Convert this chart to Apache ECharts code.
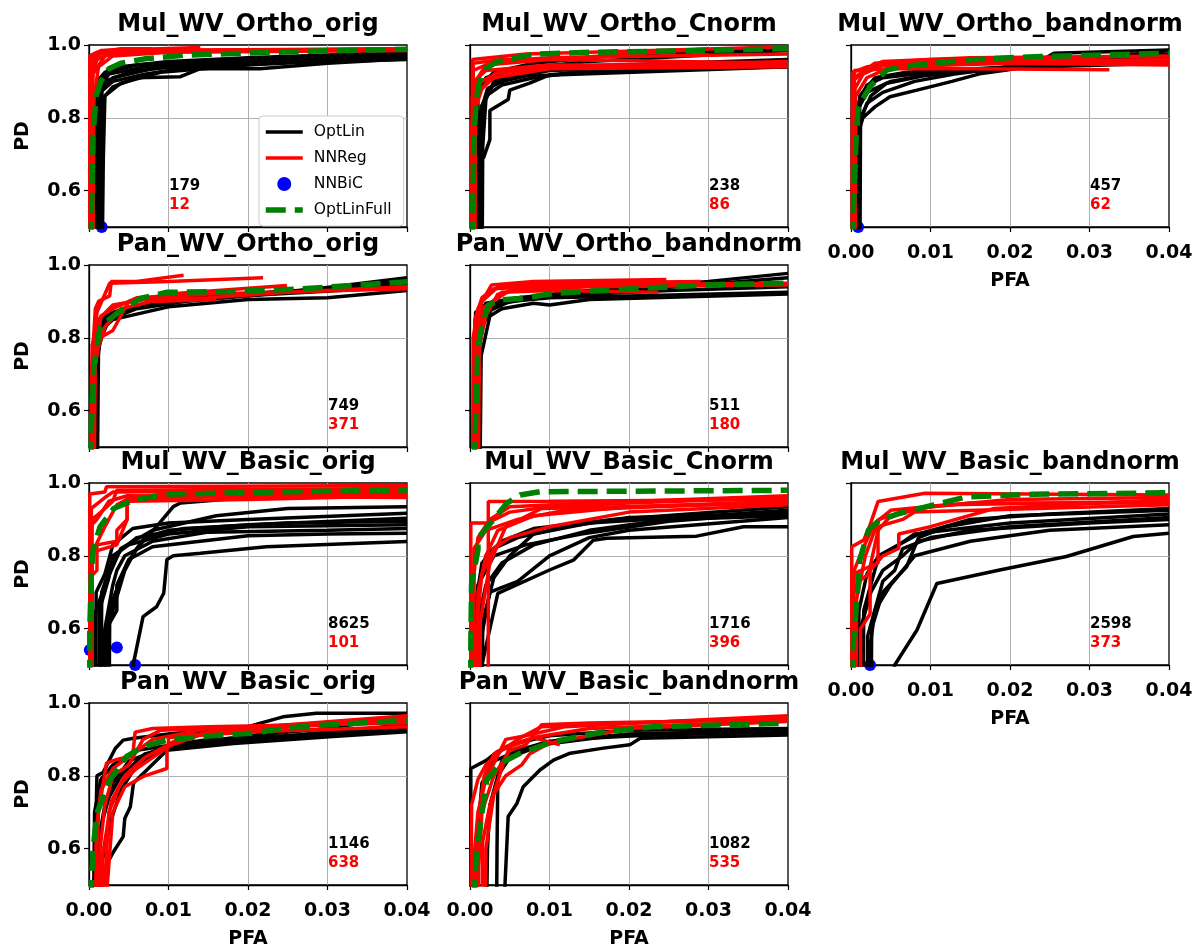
<!DOCTYPE html>
<html lang="en">
<head>
<meta charset="utf-8" />
<title>PD vs PFA</title>
<script src="https://cdn.jsdelivr.net/npm/echarts@6/dist/echarts.min.js"></script>
<style>
  html, body { margin: 0; padding: 0; background: #fff; }
  #chart { width: 1196px; height: 944px; }
</style>
</head>
<body>
<div id="chart"></div>
<script>
// axis ticks
var xTicks = [0, 0.01, 0.02, 0.03, 0.04];
var yTicks = [0.6, 0.8, 1.0];

var titles = ['Mul_WV_Ortho_orig', 'Mul_WV_Ortho_Cnorm', 'Mul_WV_Ortho_bandnorm',
  'Pan_WV_Ortho_orig', 'Pan_WV_Ortho_bandnorm',
  'Mul_WV_Basic_orig', 'Mul_WV_Basic_Cnorm', 'Mul_WV_Basic_bandnorm',
  'Pan_WV_Basic_orig', 'Pan_WV_Basic_bandnorm'];
var countOptLin = [179, 238, 457, 749, 511, 8625, 1716, 2598, 1146, 1082];
var countNNReg = [12, 86, 62, 371, 180, 101, 396, 373, 638, 535];
var countX = [0.01, 0.03, 0.03, 0.03, 0.03, 0.03, 0.03, 0.03, 0.03, 0.03];

// ---- Mul_WV_Ortho_orig
var mulOrthoOrigLin = [
  [[0.0013,0.3],[0.0013,0.6],[0.0016,0.85],[0.003,0.885],[0.006,0.91],[0.0115,0.913],[0.014,0.935],[0.0215,0.935],[0.03,0.95],[0.04,0.962]],
  [[0.0010,0.3],[0.0011,0.87],[0.002,0.9],[0.005,0.925],[0.01,0.94],[0.02,0.95],[0.04,0.965]],
  [[0.0014,0.3],[0.0016,0.88],[0.003,0.91],[0.008,0.935],[0.015,0.95],[0.03,0.96],[0.04,0.97]],
  [[0.0009,0.3],[0.001,0.9],[0.002,0.925],[0.006,0.945],[0.012,0.955],[0.025,0.965],[0.04,0.972]],
  [[0.0016,0.3],[0.0018,0.69],[0.002,0.86],[0.004,0.895],[0.009,0.925],[0.02,0.945],[0.04,0.968]],
  [[0.0011,0.3],[0.0012,0.88],[0.0025,0.92],[0.007,0.94],[0.016,0.955],[0.04,0.975]],
  [[0.0015,0.3],[0.0016,0.91],[0.004,0.94],[0.01,0.955],[0.02,0.965],[0.04,0.98]],
  [[0.0013,0.3],[0.0014,0.87],[0.003,0.9],[0.007,0.92],[0.013,0.94],[0.025,0.952],[0.04,0.96]]
];
var mulOrthoOrigReg = [
  [[0.0002,0.3],[0.0002,0.96],[0.001,0.97],[0.002,0.985],[0.014,0.993]],
  [[0.0003,0.3],[0.0004,0.95],[0.0015,0.975],[0.004,0.985],[0.04,0.99]],
  [[0.0001,0.3],[0.0002,0.9],[0.001,0.96],[0.003,0.98],[0.02,0.985],[0.04,0.99]],
  [[0.0004,0.3],[0.0005,0.92],[0.002,0.97],[0.006,0.985],[0.04,0.988]],
  [[0.0002,0.3],[0.0003,0.97],[0.0015,0.985],[0.012,0.99]],
  [[0.0005,0.3],[0.0006,0.85],[0.0012,0.94],[0.003,0.97],[0.01,0.98],[0.04,0.985]],
  [[0.0001,0.3],[0.0001,0.97],[0.001,0.98],[0.004,0.99],[0.008,0.99]]
];
var mulOrthoOrigFull = [[0.0002,0.3],[0.0003,0.5],[0.0005,0.75],[0.0009,0.86],[0.0015,0.9],[0.0025,0.935],[0.004,0.95],[0.007,0.962],[0.012,0.972],[0.02,0.978],[0.03,0.984],[0.04,0.988]];
var mulOrthoOrigBiC = [[0.0016,0.5]];

// ---- Mul_WV_Ortho_Cnorm
var mulOrthoCnormLin = [
  [[0.0008,0.3],[0.0009,0.69],[0.0017,0.69],[0.0025,0.74],[0.0025,0.82],[0.0048,0.85],[0.005,0.876],[0.0075,0.895],[0.01,0.918],[0.02,0.935],[0.04,0.945]],
  [[0.0012,0.3],[0.0014,0.75],[0.002,0.86],[0.004,0.89],[0.008,0.91],[0.015,0.93],[0.04,0.94]],
  [[0.0010,0.3],[0.0011,0.8],[0.0022,0.88],[0.005,0.91],[0.01,0.93],[0.04,0.95]],
  [[0.0006,0.3],[0.0008,0.86],[0.002,0.91],[0.006,0.935],[0.015,0.955],[0.04,0.985]],
  [[0.0015,0.3],[0.0016,0.72],[0.002,0.85],[0.003,0.9],[0.006,0.92],[0.012,0.94],[0.04,0.96]],
  [[0.0009,0.3],[0.001,0.88],[0.003,0.925],[0.008,0.95],[0.02,0.975],[0.04,0.99]],
  [[0.0013,0.3],[0.0014,0.83],[0.003,0.895],[0.007,0.915],[0.04,0.94]]
];
var mulOrthoCnormReg = [
  [[0.0002,0.3],[0.0003,0.96],[0.007,0.975],[0.04,0.995]],
  [[0.0003,0.3],[0.0004,0.95],[0.004,0.96],[0.01,0.96],[0.04,0.95]],
  [[0.0004,0.3],[0.0005,0.9],[0.002,0.93],[0.01,0.945],[0.04,0.945]],
  [[0.0002,0.3],[0.0003,0.86],[0.0015,0.9],[0.004,0.93],[0.01,0.94],[0.04,0.955]],
  [[0.0005,0.3],[0.0006,0.82],[0.0015,0.88],[0.003,0.92],[0.01,0.94],[0.04,0.95]],
  [[0.0003,0.3],[0.0004,0.93],[0.003,0.955],[0.01,0.965],[0.04,0.975]],
  [[0.0006,0.3],[0.0007,0.9],[0.002,0.945],[0.01,0.96],[0.03,0.99]],
  [[0.0002,0.3],[0.0002,0.78],[0.001,0.87],[0.003,0.91],[0.01,0.935],[0.04,0.94]]
];
var mulOrthoCnormFull = [[0.0002,0.3],[0.0003,0.5],[0.0005,0.75],[0.0008,0.85],[0.0012,0.9],[0.002,0.935],[0.0034,0.954],[0.008,0.975],[0.015,0.98],[0.03,0.985],[0.04,0.99]];
var mulOrthoCnormBiC = [];

// ---- Mul_WV_Ortho_bandnorm
var mulOrthoBandLin = [
  [[0.0007,0.3],[0.0008,0.75],[0.0015,0.8],[0.003,0.83],[0.0049,0.858],[0.0083,0.876],[0.0127,0.9],[0.0164,0.922],[0.0196,0.931],[0.023,0.945],[0.0255,0.977],[0.04,0.986]],
  [[0.0009,0.3],[0.001,0.78],[0.002,0.84],[0.004,0.87],[0.008,0.9],[0.013,0.92],[0.02,0.94],[0.04,0.975]],
  [[0.0006,0.3],[0.0008,0.82],[0.002,0.87],[0.005,0.9],[0.01,0.92],[0.02,0.935],[0.04,0.96]],
  [[0.0011,0.3],[0.0012,0.8],[0.0025,0.86],[0.0045,0.895],[0.009,0.915],[0.015,0.93],[0.025,0.95],[0.04,0.97]],
  [[0.0008,0.3],[0.0009,0.84],[0.002,0.89],[0.004,0.91],[0.01,0.925],[0.02,0.94],[0.03,0.96],[0.04,0.985]],
  [[0.001,0.3],[0.0011,0.86],[0.003,0.91],[0.007,0.925],[0.015,0.935],[0.04,0.95]]
];
var mulOrthoBandReg = [
  [[0.0002,0.3],[0.0002,0.925],[0.002,0.94],[0.008,0.95],[0.02,0.955],[0.04,0.96]],
  [[0.0003,0.3],[0.0004,0.93],[0.005,0.935],[0.015,0.935],[0.0325,0.932]],
  [[0.0001,0.3],[0.0002,0.9],[0.002,0.935],[0.004,0.955],[0.015,0.965],[0.04,0.97]],
  [[0.0004,0.3],[0.0005,0.88],[0.0015,0.92],[0.004,0.945],[0.012,0.955],[0.04,0.955]],
  [[0.0003,0.3],[0.0004,0.91],[0.003,0.95],[0.01,0.96],[0.025,0.965],[0.04,0.95]],
  [[0.0005,0.3],[0.0006,0.86],[0.002,0.91],[0.005,0.94],[0.02,0.95],[0.04,0.945]]
];
var mulOrthoBandFull = [[0.0002,0.3],[0.0003,0.55],[0.0006,0.72],[0.0009,0.83],[0.0024,0.886],[0.0045,0.931],[0.0062,0.94],[0.0145,0.959],[0.023,0.968],[0.04,0.977]];
var mulOrthoBandBiC = [[0.0009,0.5]];

// ---- Pan_WV_Ortho_orig
var panOrthoOrigLin = [
  [[0.0007,0.3],[0.0009,0.7],[0.0015,0.82],[0.003,0.85],[0.006,0.865],[0.01,0.885],[0.02,0.905],[0.03,0.91],[0.04,0.93]],
  [[0.0008,0.3],[0.001,0.75],[0.002,0.84],[0.004,0.87],[0.008,0.895],[0.015,0.91],[0.04,0.94]],
  [[0.0006,0.3],[0.0008,0.8],[0.002,0.86],[0.005,0.885],[0.01,0.905],[0.02,0.92],[0.03,0.935],[0.04,0.955]],
  [[0.001,0.3],[0.0012,0.78],[0.0025,0.85],[0.006,0.88],[0.012,0.9],[0.025,0.925],[0.04,0.965]],
  [[0.0009,0.3],[0.001,0.82],[0.003,0.87],[0.007,0.895],[0.015,0.915],[0.03,0.935],[0.04,0.95]]
];
var panOrthoOrigReg = [
  [[0.0002,0.3],[0.0003,0.7],[0.0008,0.88],[0.0012,0.9],[0.0026,0.915],[0.0028,0.955],[0.006,0.955],[0.0119,0.972]],
  [[0.0003,0.3],[0.0005,0.75],[0.001,0.87],[0.0026,0.95],[0.01,0.955],[0.0219,0.965]],
  [[0.0004,0.3],[0.0006,0.7],[0.0014,0.8],[0.003,0.82],[0.0035,0.84],[0.005,0.9],[0.01,0.92],[0.0249,0.944]],
  [[0.0005,0.3],[0.0007,0.72],[0.0015,0.86],[0.003,0.88],[0.006,0.91],[0.015,0.92],[0.04,0.935]],
  [[0.0002,0.3],[0.0004,0.78],[0.0012,0.85],[0.003,0.89],[0.007,0.905],[0.015,0.91],[0.025,0.925],[0.04,0.94]],
  [[0.0006,0.3],[0.0008,0.75],[0.002,0.83],[0.004,0.88],[0.008,0.9],[0.016,0.905]]
];
var panOrthoOrigFull = [[0.0002,0.3],[0.0003,0.55],[0.0006,0.72],[0.0014,0.83],[0.0035,0.867],[0.0064,0.908],[0.0098,0.925],[0.018,0.927],[0.0265,0.934],[0.04,0.954]];
var panOrthoOrigBiC = [];

// ---- Pan_WV_Ortho_bandnorm
var panOrthoBandLin = [
  [[0.0012,0.3],[0.0014,0.75],[0.0025,0.86],[0.004,0.88],[0.008,0.895],[0.01,0.89],[0.015,0.905],[0.04,0.92]],
  [[0.0009,0.3],[0.001,0.8],[0.002,0.87],[0.005,0.9],[0.01,0.91],[0.02,0.915],[0.04,0.925]],
  [[0.0007,0.3],[0.0008,0.85],[0.002,0.895],[0.006,0.91],[0.015,0.93],[0.03,0.955],[0.04,0.977]],
  [[0.0011,0.3],[0.0012,0.82],[0.003,0.89],[0.008,0.91],[0.02,0.93],[0.04,0.965]],
  [[0.0006,0.3],[0.0007,0.87],[0.003,0.9],[0.01,0.915],[0.025,0.93],[0.04,0.94]]
];
var panOrthoBandReg = [
  [[0.0003,0.3],[0.0004,0.8],[0.001,0.88],[0.0027,0.945],[0.008,0.955],[0.0247,0.96]],
  [[0.0005,0.3],[0.0007,0.82],[0.0015,0.9],[0.0035,0.94],[0.01,0.95],[0.029,0.955]],
  [[0.0008,0.3],[0.001,0.75],[0.002,0.88],[0.004,0.925],[0.01,0.93],[0.0237,0.925]],
  [[0.0004,0.3],[0.0006,0.85],[0.0015,0.91],[0.003,0.935],[0.012,0.945],[0.04,0.95]],
  [[0.001,0.3],[0.0012,0.78],[0.002,0.86],[0.0035,0.92],[0.008,0.94],[0.02,0.95]],
  [[0.0006,0.3],[0.0008,0.8],[0.0018,0.885],[0.005,0.93],[0.015,0.94],[0.04,0.945]]
];
var panOrthoBandFull = [[0.0005,0.3],[0.0006,0.5],[0.001,0.776],[0.0015,0.83],[0.0023,0.89],[0.0038,0.904],[0.0063,0.908],[0.0105,0.922],[0.0189,0.933],[0.0294,0.945],[0.04,0.95]];
var panOrthoBandBiC = [];

// ---- Mul_WV_Basic_orig
var mulBasicOrigLin = [
  [[0.0045,0.3],[0.0056,0.505],[0.0068,0.633],[0.0085,0.66],[0.0094,0.697],[0.0098,0.79],[0.0106,0.8],[0.014,0.807],[0.0223,0.825],[0.04,0.839]],
  [[0.0018,0.3],[0.002,0.6],[0.003,0.72],[0.0035,0.76],[0.0045,0.8],[0.008,0.84],[0.015,0.865],[0.03,0.87],[0.04,0.875]],
  [[0.0012,0.3],[0.0013,0.65],[0.0025,0.74],[0.003,0.8],[0.005,0.83],[0.01,0.86],[0.02,0.88],[0.04,0.885]],
  [[0.0015,0.3],[0.0016,0.7],[0.0028,0.78],[0.004,0.815],[0.006,0.85],[0.012,0.875],[0.025,0.89],[0.04,0.895]],
  [[0.0021,0.3],[0.0022,0.6],[0.0035,0.65],[0.0035,0.72],[0.0048,0.78],[0.007,0.85],[0.01,0.87],[0.02,0.885],[0.04,0.903]],
  [[0.0008,0.3],[0.0009,0.7],[0.002,0.75],[0.003,0.83],[0.0055,0.875],[0.01,0.89],[0.02,0.9],[0.04,0.917]],
  [[0.0025,0.3],[0.0026,0.62],[0.0045,0.76],[0.006,0.82],[0.0085,0.88],[0.0106,0.935],[0.0115,0.945],[0.02,0.96],[0.025,0.97],[0.04,0.975]],
  [[0.0005,0.3],[0.0006,0.63],[0.002,0.72],[0.004,0.82],[0.008,0.87],[0.016,0.91],[0.025,0.93],[0.04,0.935]],
  [[0.0014,0.3],[0.0015,0.55],[0.003,0.68],[0.005,0.79],[0.008,0.825],[0.02,0.855],[0.03,0.86],[0.04,0.862]]
];
var mulBasicOrigReg = [
  [[0.0001,0.3],[0.0001,0.74],[0.001,0.76],[0.001,0.83],[0.0035,0.84],[0.0035,0.87],[0.0048,0.9],[0.0048,0.96],[0.01,0.97],[0.04,0.975]],
  [[0.0002,0.3],[0.0002,0.8],[0.002,0.88],[0.0035,0.94],[0.0048,0.955],[0.02,0.965],[0.04,0.97]],
  [[0.0001,0.3],[0.0001,0.97],[0.002,0.975],[0.0022,0.99],[0.04,0.993]],
  [[0.0003,0.3],[0.0004,0.9],[0.0015,0.92],[0.003,0.95],[0.0035,0.98],[0.04,0.985]],
  [[0.0002,0.3],[0.0003,0.93],[0.002,0.96],[0.003,0.975],[0.04,0.98]],
  [[0.0001,0.3],[0.0001,0.88],[0.001,0.9],[0.0025,0.95],[0.0048,0.965],[0.04,0.96]],
  [[0.0004,0.3],[0.0004,0.81],[0.0035,0.83],[0.0048,0.9],[0.0048,0.95],[0.02,0.955],[0.04,0.965]]
];
var mulBasicOrigFull = [[0.0001,0.3],[0.0001,0.6],[0.0003,0.75],[0.0005,0.816],[0.0014,0.88],[0.0031,0.93],[0.0056,0.953],[0.0098,0.969],[0.02,0.974],[0.04,0.981]];
var mulBasicOrigBiC = [[0.0001,0.541],[0.0035,0.548],[0.0058,0.5]];

// ---- Mul_WV_Basic_Cnorm
var mulBasicCnormLin = [
  [[0.0013,0.3],[0.0015,0.5],[0.0025,0.6],[0.0035,0.697],[0.01,0.761],[0.013,0.788],[0.0155,0.843],[0.0172,0.848],[0.0285,0.854],[0.0344,0.88],[0.04,0.88]],
  [[0.001,0.3],[0.0012,0.55],[0.0025,0.7],[0.006,0.73],[0.01,0.8],[0.015,0.85],[0.02,0.87],[0.04,0.905]],
  [[0.0006,0.3],[0.0008,0.6],[0.002,0.72],[0.004,0.78],[0.008,0.83],[0.015,0.87],[0.025,0.9],[0.04,0.91]],
  [[0.0004,0.3],[0.0006,0.65],[0.0015,0.78],[0.003,0.82],[0.006,0.85],[0.012,0.88],[0.02,0.905],[0.04,0.915]],
  [[0.0015,0.3],[0.0016,0.62],[0.003,0.74],[0.005,0.8],[0.008,0.86],[0.015,0.89],[0.03,0.91],[0.04,0.925]],
  [[0.0008,0.3],[0.001,0.7],[0.002,0.8],[0.004,0.84],[0.008,0.875],[0.018,0.9],[0.04,0.935]],
  [[0.0002,0.3],[0.0003,0.55],[0.001,0.72],[0.003,0.8],[0.007,0.83],[0.014,0.86],[0.025,0.895],[0.04,0.92]]
];
var mulBasicCnormReg = [
  [[0.0023,0.3],[0.0023,0.949],[0.01,0.95],[0.04,0.955]],
  [[0.0001,0.3],[0.0001,0.89],[0.0022,0.89],[0.005,0.92],[0.01,0.935],[0.02,0.945],[0.04,0.96]],
  [[0.0006,0.3],[0.0008,0.6],[0.0015,0.75],[0.003,0.82],[0.005,0.85],[0.01,0.88],[0.02,0.92],[0.04,0.94]],
  [[0.0008,0.3],[0.001,0.7],[0.002,0.8],[0.0035,0.87],[0.008,0.91],[0.02,0.935],[0.04,0.95]],
  [[0.0003,0.3],[0.0005,0.75],[0.001,0.85],[0.0025,0.9],[0.005,0.935],[0.015,0.945],[0.04,0.965]],
  [[0.0012,0.3],[0.0013,0.62],[0.0025,0.78],[0.0045,0.88],[0.009,0.93],[0.04,0.945]],
  [[0.0004,0.3],[0.0005,0.82],[0.002,0.87],[0.006,0.9],[0.012,0.925],[0.03,0.94],[0.04,0.95]]
];
var mulBasicCnormFull = [[0.0001,0.3],[0.0001,0.55],[0.0002,0.724],[0.001,0.816],[0.001,0.848],[0.0029,0.898],[0.0046,0.944],[0.0063,0.967],[0.0088,0.976],[0.04,0.98]];
var mulBasicCnormBiC = [];

// ---- Mul_WV_Basic_bandnorm
var mulBasicBandLin = [
  [[0.0045,0.3],[0.0055,0.5],[0.0083,0.596],[0.0108,0.724],[0.0187,0.761],[0.0271,0.798],[0.0355,0.853],[0.04,0.862]],
  [[0.0022,0.3],[0.0024,0.55],[0.003,0.65],[0.005,0.72],[0.008,0.8],[0.015,0.84],[0.025,0.87],[0.04,0.885]],
  [[0.001,0.3],[0.0012,0.6],[0.0025,0.7],[0.004,0.76],[0.0065,0.8],[0.0085,0.84],[0.015,0.87],[0.03,0.89],[0.04,0.9]],
  [[0.0015,0.3],[0.0016,0.65],[0.0035,0.8],[0.006,0.83],[0.008,0.86],[0.012,0.87],[0.02,0.89],[0.04,0.915]],
  [[0.002,0.3],[0.0021,0.58],[0.004,0.73],[0.0055,0.76],[0.0065,0.82],[0.01,0.85],[0.02,0.88],[0.04,0.905]],
  [[0.0008,0.3],[0.001,0.65],[0.002,0.75],[0.0035,0.8],[0.0085,0.86],[0.015,0.9],[0.025,0.915],[0.04,0.93]],
  [[0.0025,0.3],[0.0026,0.6],[0.004,0.7],[0.007,0.77],[0.0085,0.85],[0.012,0.88],[0.02,0.91],[0.04,0.925]]
];
var mulBasicBandReg = [
  [[0.0001,0.3],[0.0001,0.825],[0.0016,0.843],[0.0024,0.885],[0.0034,0.949],[0.0093,0.972],[0.04,0.967]],
  [[0.0002,0.3],[0.0002,0.7],[0.001,0.73],[0.0022,0.75],[0.0034,0.87],[0.005,0.91],[0.01,0.935],[0.02,0.955],[0.04,0.96]],
  [[0.0012,0.3],[0.0012,0.6],[0.0024,0.64],[0.0024,0.76],[0.004,0.8],[0.006,0.82],[0.006,0.86],[0.01,0.88],[0.018,0.93],[0.04,0.955]],
  [[0.0003,0.3],[0.0004,0.76],[0.0015,0.82],[0.003,0.89],[0.005,0.925],[0.012,0.94],[0.04,0.95]],
  [[0.0006,0.3],[0.0007,0.68],[0.0018,0.8],[0.0035,0.9],[0.008,0.93],[0.015,0.945],[0.04,0.945]],
  [[0.0001,0.3],[0.0002,0.75],[0.0034,0.78],[0.0034,0.88],[0.0065,0.9],[0.008,0.92],[0.04,0.94]]
];
var mulBasicBandFull = [[0.0002,0.3],[0.0003,0.56],[0.0009,0.724],[0.0011,0.788],[0.0022,0.871],[0.0036,0.898],[0.0062,0.917],[0.0104,0.94],[0.0146,0.962],[0.0229,0.969],[0.04,0.973]];
var mulBasicBandBiC = [[0.0007,0.527],[0.0024,0.5]];

// ---- Pan_WV_Basic_orig
var panBasicOrigLin = [
  [[0.0006,0.3],[0.0008,0.6],[0.001,0.8],[0.0018,0.81],[0.0033,0.875],[0.0043,0.898],[0.0056,0.903],[0.01,0.915],[0.02,0.935],[0.0244,0.962],[0.0286,0.972],[0.04,0.972]],
  [[0.0012,0.3],[0.0014,0.523],[0.0031,0.592],[0.0043,0.633],[0.0045,0.683],[0.0052,0.715],[0.0056,0.78],[0.0098,0.87],[0.0182,0.889],[0.0307,0.908],[0.04,0.921]],
  [[0.0008,0.3],[0.0009,0.55],[0.0015,0.66],[0.0025,0.74],[0.004,0.8],[0.007,0.86],[0.012,0.885],[0.025,0.905],[0.04,0.93]],
  [[0.001,0.3],[0.0012,0.62],[0.002,0.72],[0.003,0.78],[0.005,0.84],[0.009,0.875],[0.02,0.9],[0.04,0.94]],
  [[0.0015,0.3],[0.0016,0.56],[0.0028,0.68],[0.004,0.76],[0.006,0.83],[0.01,0.88],[0.02,0.91],[0.03,0.93],[0.04,0.965]],
  [[0.0005,0.3],[0.0007,0.7],[0.0015,0.79],[0.003,0.83],[0.006,0.87],[0.015,0.9],[0.03,0.915],[0.04,0.925]]
];
var panBasicOrigReg = [
  [[0.0009,0.3],[0.001,0.6],[0.0012,0.7],[0.0022,0.835],[0.0035,0.845],[0.0055,0.855],[0.0058,0.92],[0.008,0.93],[0.015,0.935],[0.04,0.945]],
  [[0.002,0.3],[0.0021,0.55],[0.0025,0.7],[0.004,0.78],[0.006,0.82],[0.008,0.85],[0.01,0.88],[0.01,0.905],[0.02,0.92],[0.04,0.935]],
  [[0.0012,0.3],[0.0014,0.6],[0.002,0.72],[0.003,0.8],[0.005,0.83],[0.0068,0.9],[0.009,0.925],[0.02,0.935],[0.04,0.955]],
  [[0.0022,0.3],[0.0023,0.5],[0.003,0.7],[0.0045,0.77],[0.007,0.8],[0.0098,0.82],[0.0098,0.88],[0.015,0.92],[0.03,0.94],[0.04,0.96]],
  [[0.0008,0.3],[0.0009,0.65],[0.0015,0.76],[0.003,0.82],[0.0055,0.86],[0.008,0.9],[0.015,0.93],[0.04,0.95]],
  [[0.0016,0.3],[0.0017,0.58],[0.0028,0.73],[0.0045,0.8],[0.007,0.85],[0.012,0.91],[0.025,0.94],[0.04,0.965]]
];
var panBasicOrigFull = [[0.0002,0.3],[0.0003,0.5],[0.0005,0.596],[0.001,0.697],[0.0018,0.743],[0.0026,0.788],[0.0047,0.853],[0.0068,0.88],[0.0098,0.898],[0.014,0.908],[0.0203,0.917],[0.0265,0.935],[0.04,0.953]];
var panBasicOrigBiC = [];

// ---- Pan_WV_Basic_bandnorm
var panBasicBandLin = [
  [[0.0001,0.3],[0.0001,0.82],[0.0021,0.843],[0.0034,0.866],[0.006,0.89],[0.01,0.91],[0.02,0.925],[0.04,0.93]],
  [[0.0042,0.3],[0.0044,0.5],[0.0048,0.688],[0.0059,0.724],[0.0067,0.77],[0.0088,0.816],[0.0105,0.843],[0.0126,0.862],[0.0168,0.876],[0.0201,0.885],[0.0214,0.903],[0.04,0.912]],
  [[0.0033,0.3],[0.0034,0.6],[0.0035,0.8],[0.004,0.84],[0.006,0.87],[0.01,0.895],[0.02,0.915],[0.04,0.925]],
  [[0.002,0.3],[0.0022,0.6],[0.0025,0.72],[0.0035,0.8],[0.005,0.85],[0.009,0.885],[0.018,0.91],[0.04,0.92]],
  [[0.0008,0.3],[0.001,0.65],[0.0015,0.78],[0.003,0.84],[0.006,0.87],[0.012,0.9],[0.025,0.915],[0.04,0.922]]
];
var panBasicBandReg = [
  [[0.0001,0.3],[0.0002,0.72],[0.001,0.79],[0.002,0.83],[0.004,0.87],[0.006,0.9],[0.009,0.935],[0.02,0.945],[0.04,0.96]],
  [[0.001,0.3],[0.0011,0.55],[0.0015,0.7],[0.003,0.8],[0.005,0.87],[0.007,0.885],[0.009,0.94],[0.015,0.945],[0.04,0.955]],
  [[0.0019,0.3],[0.002,0.6],[0.003,0.75],[0.0045,0.8],[0.0065,0.83],[0.0075,0.86],[0.01,0.89],[0.02,0.93],[0.04,0.95]],
  [[0.0005,0.3],[0.0006,0.6],[0.001,0.7],[0.002,0.79],[0.0045,0.9],[0.007,0.91],[0.012,0.935],[0.03,0.955],[0.04,0.965]],
  [[0.0015,0.3],[0.0016,0.62],[0.0025,0.72],[0.004,0.82],[0.005,0.88],[0.008,0.905],[0.015,0.93],[0.04,0.95]],
  [[0.0009,0.3],[0.001,0.68],[0.0018,0.8],[0.003,0.86],[0.0045,0.88],[0.008,0.905],[0.0113,0.885]]
];
var panBasicBandFull = [[0.0005,0.3],[0.0006,0.5],[0.0008,0.578],[0.0015,0.697],[0.0021,0.788],[0.0038,0.834],[0.0063,0.862],[0.0105,0.894],[0.0168,0.921],[0.0231,0.935],[0.04,0.944]];
var panBasicBandBiC = [];

// panel table, in drawing order
var panelLin = [mulOrthoOrigLin, mulOrthoCnormLin, mulOrthoBandLin, panOrthoOrigLin, panOrthoBandLin,
  mulBasicOrigLin, mulBasicCnormLin, mulBasicBandLin, panBasicOrigLin, panBasicBandLin];
var panelReg = [mulOrthoOrigReg, mulOrthoCnormReg, mulOrthoBandReg, panOrthoOrigReg, panOrthoBandReg,
  mulBasicOrigReg, mulBasicCnormReg, mulBasicBandReg, panBasicOrigReg, panBasicBandReg];
var panelFull = [mulOrthoOrigFull, mulOrthoCnormFull, mulOrthoBandFull, panOrthoOrigFull, panOrthoBandFull,
  mulBasicOrigFull, mulBasicCnormFull, mulBasicBandFull, panBasicOrigFull, panBasicBandFull];
var panelBiC = [mulOrthoOrigBiC, mulOrthoCnormBiC, mulOrthoBandBiC, panOrthoOrigBiC, panOrthoBandBiC,
  mulBasicOrigBiC, mulBasicCnormBiC, mulBasicBandBiC, panBasicOrigBiC, panBasicBandBiC];

// layout
var colLeft = [89, 470, 851];
var rowTop = [45, 265, 483, 703];
var cellW = 318, cellH = 182;
var panelCell = [[0,0],[0,1],[0,2],[1,0],[1,1],[2,0],[2,1],[2,2],[3,0],[3,1]];
var showXLabels = [2, 7, 8, 9];

var FONT = 'DejaVu Sans';
var chart = echarts.init(document.getElementById('chart'));

var grids = [], xAxes = [], yAxes = [], series = [], graphics = [];

panelCell.forEach(function (rc, i) {
  var left = colLeft[rc[1]], top = rowTop[rc[0]];
  var showX = showXLabels.indexOf(i) >= 0;
  var showY = rc[1] === 0;

  grids.push({ left: left, top: top, width: cellW, height: cellH,
    show: true, borderColor: '#000', borderWidth: 1.3, backgroundColor: '#fff',
    containLabel: false, outerBoundsMode: 'none' });

  xAxes.push({
    gridIndex: i, type: 'value', min: 0, max: 0.04, interval: 0.01,
    axisLine: { show: true, onZero: false, lineStyle: { color: '#000', width: 1.3 } },
    axisTick: { show: true, length: 5, lineStyle: { color: '#000', width: 1.2 } },
    axisLabel: { show: showX, margin: 17, color: '#000', fontFamily: FONT, fontWeight: 'bold', fontSize: 19,
      formatter: function (v) { return v.toFixed(2); } },
    splitLine: { show: true, showMinLine: false, showMaxLine: false, lineStyle: { color: '#b0b0b0', width: 1 } },
    name: showX ? 'PFA' : '', nameLocation: 'middle', nameGap: 45,
    nameTextStyle: { color: '#000', fontFamily: FONT, fontWeight: 'bold', fontSize: 19 }
  });

  yAxes.push({
    gridIndex: i, type: 'value', min: 0.5, max: 1.0,
    axisLine: { show: true, onZero: false, lineStyle: { color: '#000', width: 1.3 } },
    axisTick: { show: true, length: 5, customValues: yTicks, lineStyle: { color: '#000', width: 1.2 } },
    axisLabel: { show: showY, margin: 8, customValues: yTicks, color: '#000', fontFamily: FONT, fontWeight: 'bold', fontSize: 19,
      formatter: function (v) { return v.toFixed(1); } },
    splitLine: { show: true, showMinLine: false, showMaxLine: false, lineStyle: { color: '#b0b0b0', width: 1 } },
    name: showY ? 'PD' : '', nameLocation: 'middle', nameGap: 56,
    nameTextStyle: { color: '#000', fontFamily: FONT, fontWeight: 'bold', fontSize: 19 }
  });

  panelLin[i].forEach(function (curve) {
    series.push({ name: 'OptLin', type: 'line', xAxisIndex: i, yAxisIndex: i, data: curve,
      symbol: 'none', clip: true, silent: true, color: '#000',
      lineStyle: { color: '#000', width: 3.5 } });
  });
  panelReg[i].forEach(function (curve) {
    series.push({ name: 'NNReg', type: 'line', xAxisIndex: i, yAxisIndex: i, data: curve,
      symbol: 'none', clip: true, silent: true, color: '#ff0000',
      lineStyle: { color: '#ff0000', width: 3.5 } });
  });
  series.push({ name: 'NNBiC', type: 'scatter', xAxisIndex: i, yAxisIndex: i, data: panelBiC[i],
    symbol: 'circle', symbolSize: 12, silent: true, itemStyle: { color: '#0000ff', opacity: 1 } });
  series.push({ name: 'OptLinFull', type: 'line', xAxisIndex: i, yAxisIndex: i, data: panelFull[i],
    symbol: 'none', clip: true, silent: true, color: '#008000',
    lineStyle: { color: '#008000', width: 5.5, type: [20, 9] } });

  // counts annotation
  series.push({ type: 'scatter', xAxisIndex: i, yAxisIndex: i, silent: true,
    symbolSize: 1, itemStyle: { color: 'rgba(0,0,0,0)', opacity: 1 },
    data: [
      { value: [countX[i], 0.6], label: { formatter: String(countOptLin[i]), color: '#000000' } },
      { value: [countX[i], 0.55], label: { formatter: String(countNNReg[i]), color: '#ff0000' } }
    ],
    label: { show: true, position: 'right', distance: 0, offset: [0, -4], opacity: 1,
      fontFamily: FONT, fontWeight: 'bold', fontSize: 15 } });

  graphics.push({ type: 'text', x: left + cellW / 2, y: top - 20, silent: true,
    style: { text: titles[i], fill: '#000', font: 'bold 24px "DejaVu Sans"',
      textAlign: 'center', textVerticalAlign: 'middle', align: 'center', verticalAlign: 'middle' } });
});

chart.setOption({
  animation: false,
  backgroundColor: '#fff',
  grid: grids,
  xAxis: xAxes,
  yAxis: yAxes,
  series: series,
  graphic: graphics,
  legend: {
    data: [
      { name: 'OptLin', itemStyle: { opacity: 0 } },
      { name: 'NNReg', itemStyle: { opacity: 0 } },
      { name: 'NNBiC', itemStyle: { opacity: 1 } },
      { name: 'OptLinFull', itemStyle: { opacity: 0 } }
    ],
    orient: 'vertical', left: 259, top: 116,
    itemWidth: 37, itemHeight: 14, itemGap: 10,
    padding: [8, 12, 8, 4],
    backgroundColor: '#fff', borderColor: '#cccccc', borderWidth: 1, borderRadius: 4,
    selectedMode: false,
    lineStyle: { width: 'inherit' },
    textStyle: { color: '#000', fontFamily: FONT, fontSize: 15.6, padding: [0, 0, 0, 6] }
  }
});
</script>
</body>
</html>
